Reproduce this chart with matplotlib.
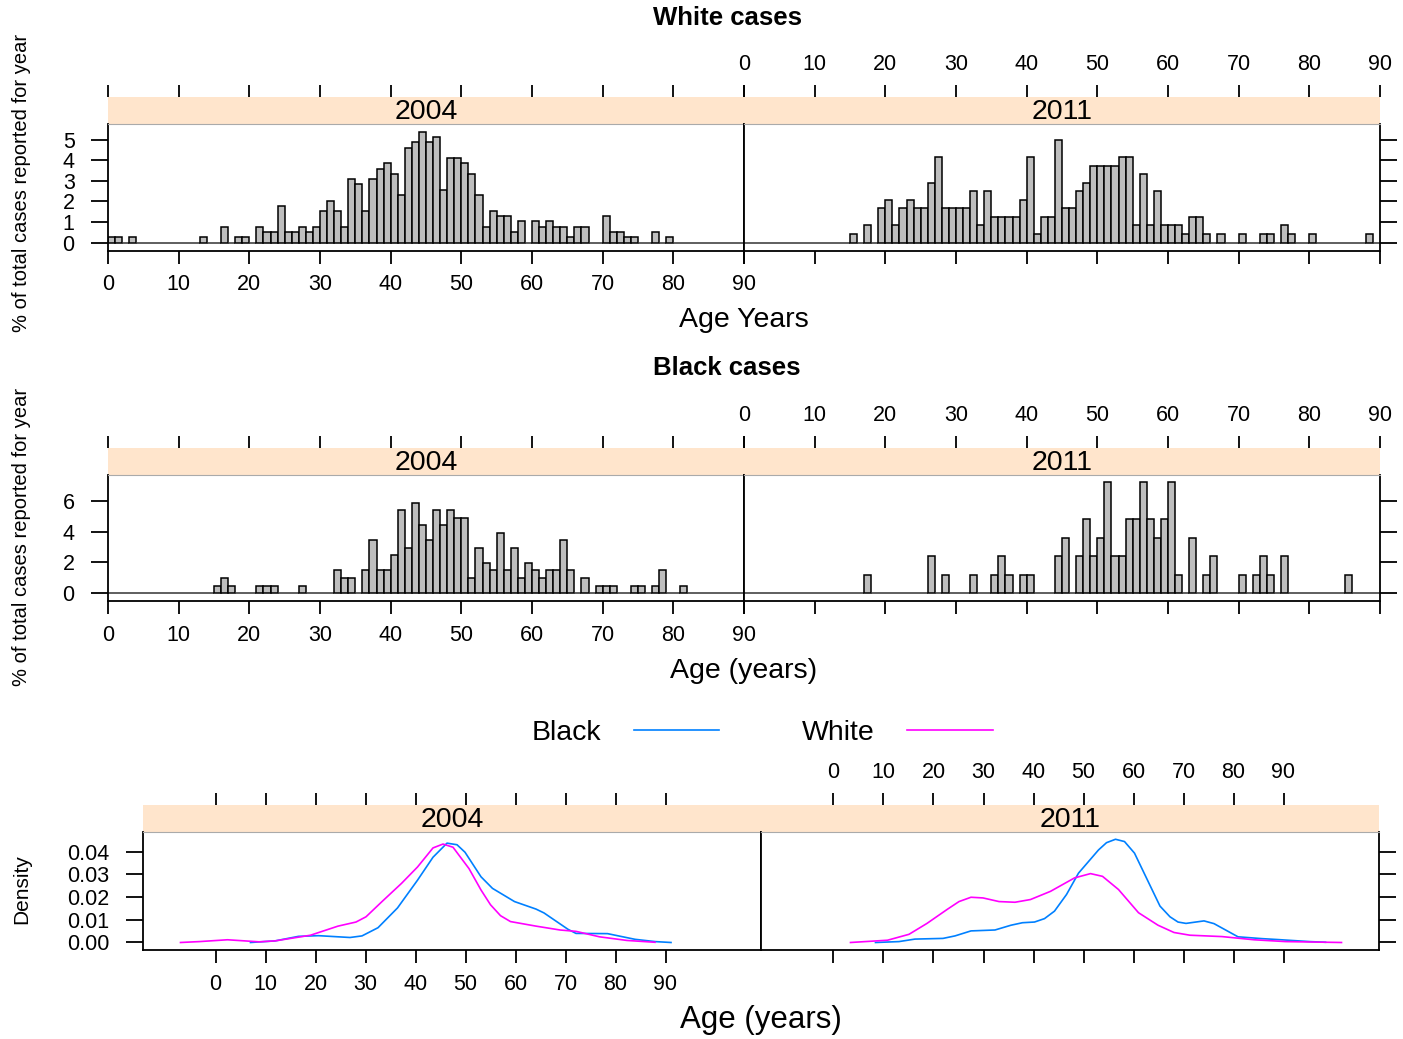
import numpy as np
import matplotlib
matplotlib.use("Agg")
import matplotlib.pyplot as plt

plt.rcParams['font.family'] = ['Liberation Sans', 'DejaVu Sans']

years = ["2004", "2011"]
ages = np.arange(90)   # one-year bins, 0..89

# % of total cases reported for year, one value per age bin
white_2004 = [0.26, 0.26, 0, 0.26, 0, 0, 0, 0, 0, 0,
              0, 0, 0, 0.26, 0, 0, 0.77, 0, 0.26, 0.26,
              0, 0.77, 0.51, 0.51, 1.78, 0.51, 0.51, 0.77, 0.51, 0.77,
              1.54, 2.04, 1.54, 0.77, 3.09, 2.83, 1.54, 3.09, 3.6, 3.86,
              3.35, 2.31, 4.63, 4.88, 5.4, 4.88, 5.14, 2.57, 4.11, 4.11,
              3.86, 3.34, 2.31, 0.77, 1.54, 1.29, 1.29, 0.51, 1.03, 0,
              1.03, 0.77, 1.03, 0.77, 0.77, 0.26, 0.77, 0.77, 0, 0,
              1.29, 0.51, 0.51, 0.26, 0.26, 0, 0, 0.51, 0, 0.26,
              0, 0, 0, 0, 0, 0, 0, 0, 0, 0]
white_2011 = [0, 0, 0, 0, 0, 0, 0, 0, 0, 0,
              0, 0, 0, 0, 0, 0.41, 0, 0.83, 0, 1.66,
              2.07, 0.83, 1.66, 2.07, 1.66, 1.66, 2.9, 4.15, 1.66, 1.66,
              1.66, 1.66, 2.49, 0.83, 2.49, 1.24, 1.24, 1.24, 1.24, 2.07,
              4.15, 0.41, 1.24, 1.24, 4.98, 1.66, 1.66, 2.49, 2.9, 3.73,
              3.73, 3.73, 3.73, 4.15, 4.15, 0.83, 3.32, 0.83, 2.49, 0.83,
              0.83, 0.83, 0.41, 1.24, 1.24, 0.41, 0, 0.41, 0, 0,
              0.41, 0, 0, 0.41, 0.41, 0, 0.83, 0.41, 0, 0,
              0.41, 0, 0, 0, 0, 0, 0, 0, 0.41, 0]
black_2004 = [0, 0, 0, 0, 0, 0, 0, 0, 0, 0,
              0, 0, 0, 0, 0, 0.49, 0.98, 0.49, 0, 0,
              0, 0.49, 0.49, 0.49, 0, 0, 0, 0.49, 0, 0,
              0, 0, 1.47, 0.98, 0.98, 0, 1.47, 3.43, 1.47, 1.47,
              2.45, 5.39, 2.94, 5.88, 4.41, 3.43, 5.39, 4.41, 5.39, 4.9,
              4.9, 0.98, 2.94, 1.96, 1.47, 3.92, 1.47, 2.94, 0.98, 1.96,
              1.47, 0.98, 1.47, 1.47, 3.43, 1.47, 0, 0.98, 0, 0.49,
              0.49, 0.49, 0, 0, 0.49, 0.49, 0, 0.49, 1.47, 0,
              0, 0.49, 0, 0, 0, 0, 0, 0, 0, 0]
black_2011 = [0, 0, 0, 0, 0, 0, 0, 0, 0, 0,
              0, 0, 0, 0, 0, 0, 0, 1.2, 0, 0,
              0, 0, 0, 0, 0, 0, 2.41, 0, 1.2, 0,
              0, 0, 1.2, 0, 0, 1.2, 2.41, 1.2, 0, 1.2,
              1.2, 0, 0, 0, 2.41, 3.61, 0, 2.41, 4.82, 2.41,
              3.61, 7.23, 2.41, 2.41, 4.82, 4.82, 7.23, 4.82, 3.61, 4.82,
              7.23, 1.2, 0, 3.61, 0, 1.2, 2.41, 0, 0, 0,
              1.2, 0, 1.2, 2.41, 1.2, 0, 2.41, 0, 0, 0,
              0, 0, 0, 0, 0, 1.2, 0, 0, 0, 0]

# density curves (age, density)
dens_black_2004_x = [7, 11.9, 16.6, 20.6, 26.9, 29.3, 32.5, 36.4, 40.4, 43.5, 46.3, 48.3,
                     49.9, 53.1, 55.4, 59.8, 64.1, 65.7, 70.5, 72.1, 78.4, 83.9, 87.9, 91.1]
dens_black_2004 = [0.0, 0.0007, 0.0027, 0.003, 0.0022, 0.0029, 0.0065, 0.0152, 0.0274, 0.0375,
                   0.0437, 0.043, 0.0397, 0.0289, 0.0238, 0.018, 0.0147, 0.013, 0.0058, 0.004,
                   0.0039, 0.0014, 0.0004, 0.0]
dens_white_2004_x = [-7, -3.2, 2.4, 8.7, 11.9, 19, 24.5, 28.1, 30.1, 33.3, 37.2, 40.4, 43.5,
                     45.5, 47.5, 50.7, 53.1, 55.0, 57.0, 59.0, 64.1, 68.9, 72.1, 76.8, 82.3, 87.9]
dens_white_2004 = [0.0, 0.0004, 0.0012, 0.0003, 0.0007, 0.0032, 0.0072, 0.009, 0.0113, 0.018,
                   0.026, 0.0332, 0.0416, 0.0433, 0.0419, 0.0325, 0.0231, 0.0166, 0.0118,
                   0.0092, 0.0072, 0.0055, 0.0049, 0.0025, 0.0009, 0.0001]
dens_black_2011_x = [8.4, 13.1, 16.3, 21.9, 24.3, 27.5, 32.3, 35.5, 37.8, 40.2, 42.2, 44.2,
                     46.6, 49.0, 53.0, 54.6, 56.4, 58.2, 60.2, 63.7, 65.3, 67.3, 68.9, 70.5,
                     74.1, 76.1, 80.9, 85.7, 88.8, 95.2, 98.4]
dens_black_2011 = [0.0, 0.0004, 0.0015, 0.0018, 0.0029, 0.0051, 0.0055, 0.0076, 0.0087, 0.009,
                   0.0105, 0.0138, 0.0211, 0.0305, 0.0407, 0.0439, 0.0454, 0.0444, 0.0393,
                   0.0233, 0.016, 0.0113, 0.009, 0.0084, 0.0095, 0.0083, 0.0025, 0.0017,
                   0.0013, 0.0004, 0.0001]
dens_white_2011_x = [3.4, 10.8, 15.1, 18.7, 22.7, 25.1, 27.5, 29.9, 33.1, 36.3, 39.4, 43.4,
                     48.2, 51.4, 53.8, 57.0, 61.0, 64.9, 68.1, 71.3, 77.7, 84.1, 90.4, 101.6]
dens_white_2011 = [0.0, 0.001, 0.0036, 0.0084, 0.0145, 0.018, 0.0199, 0.0196, 0.018, 0.0177,
                   0.0189, 0.0225, 0.0284, 0.0303, 0.0291, 0.0233, 0.0131, 0.0076, 0.0044,
                   0.0032, 0.0026, 0.0012, 0.0004, 0.0]

W, H = 1403, 1039
fig = plt.figure(figsize=(W / 100, H / 100), dpi=100)

STRIP = "#ffe5cc"
BAR = "#bebebe"
BLUE = "#0080ff"
MAGENTA = "#ff00ff"
XTICK = dict(direction="out", length=9, width=1.3, labelsize=15.5, color="black")
YTICK = dict(direction="out", length=12, width=1.3, labelsize=15.5, pad=12, color="black")


def box(x0, y0, x1, y1):  # pixel box (top-left origin) -> axes
    return fig.add_axes([x0 / W, 1 - y1 / H, (x1 - x0) / W, (y1 - y0) / H])


def block(xs, strip_top, top, bot, xlim, xticks, yticks, ylim, yfmt=None):
    panels = []
    for i, year in enumerate(years):
        x0, x1 = xs[i], xs[i + 1]
        sa = box(x0, strip_top, x1, top)
        sa.set_facecolor(STRIP)
        sa.set_xlim(xlim)
        sa.set_ylim(0, 1)
        sa.set_yticks([])
        for s in sa.spines.values():
            s.set_visible(False)
        sa.xaxis.tick_top()
        sa.set_xticks(xticks)
        sa.tick_params(axis="x", pad=7, **XTICK)
        if i == 0:
            sa.set_xticklabels([])
        sa.text(0.5, 0.45, year, transform=sa.transAxes, ha="center", va="center", fontsize=20.5)

        ax = box(x0, top, x1, bot)
        ax.set_xlim(xlim)
        ax.set_ylim(ylim)
        ax.set_xticks(xticks)
        ax.tick_params(axis="x", pad=8, **XTICK)
        if i == 1:
            ax.set_xticklabels([])
        ax.set_yticks(yticks)
        if yfmt:
            ax.set_yticklabels([yfmt % v for v in yticks])
        ax.tick_params(axis="y", **YTICK)
        if i == 1:
            ax.yaxis.tick_right()
            ax.set_yticklabels([])
        for s in ax.spines.values():
            s.set_linewidth(1.3)
        ax.spines["top"].set_color("#aaaaaa")
        ax.spines["top"].set_linewidth(0.8)
        panels.append(ax)
    return panels


def hist_panels(ax, vals):
    vals = np.asarray(vals)
    edges = ["black" if v > 0 else "#333333" for v in vals]
    ax.bar(ages, vals, width=1, align="edge", color=BAR, edgecolor=edges, linewidth=1.1)


# ---- White cases
fig.text(727 / W, 1 - 18 / H, "White cases", ha="center", va="center", fontsize=18.5, weight="bold")
wp = block([108, 744, 1380], 97, 124, 250.5, (0, 90), range(0, 91, 10), range(0, 6), (-0.39, 5.78))
hist_panels(wp[0], white_2004)
hist_panels(wp[1], white_2011)
fig.text(744 / W, 1 - 320 / H, "Age Years", ha="center", va="center", fontsize=20.5)
fig.text(22 / W, 1 - 183 / H, "% of total cases reported for year", rotation=90,
         ha="center", va="center", fontsize=14.5)

# ---- Black cases
fig.text(727 / W, 1 - 368 / H, "Black cases", ha="center", va="center", fontsize=18.5, weight="bold")
bp = block([108, 744, 1380], 448, 475, 601, (0, 90), range(0, 91, 10), range(0, 7, 2), (-0.52, 7.7))
hist_panels(bp[0], black_2004)
hist_panels(bp[1], black_2011)
fig.text(744 / W, 1 - 671 / H, "Age (years)", ha="center", va="center", fontsize=20.5)
fig.text(22 / W, 1 - 537 / H, "% of total cases reported for year", rotation=90,
         ha="center", va="center", fontsize=14.5)

# ---- Density
dp = block([143, 761, 1379], 805, 832, 950, (-14.5, 109.1), range(0, 91, 10),
           [0, 0.01, 0.02, 0.03, 0.04], (-0.0033, 0.0486), yfmt="%.2f")
lb, = dp[0].plot(dens_black_2004_x, dens_black_2004, color=BLUE, lw=1.2)
lw_, = dp[0].plot(dens_white_2004_x, dens_white_2004, color=MAGENTA, lw=1.2)
dp[1].plot(dens_black_2011_x, dens_black_2011, color=BLUE, lw=1.2)
dp[1].plot(dens_white_2011_x, dens_white_2011, color=MAGENTA, lw=1.2)
fig.text(761 / W, 1 - 1020 / H, "Age (years)", ha="center", va="center", fontsize=22.5)
fig.text(22 / W, 1 - 889 / H, "Density", rotation=90, ha="center", va="center", fontsize=15)

fig.legend([lb, lw_], ["Black", "White"], ncol=2, markerfirst=False, frameon=False,
           loc="center", bbox_to_anchor=(762 / W, 1 - 733 / H), fontsize=20.5,
           handlelength=3.0, handletextpad=1.15, columnspacing=2.9)

fig.savefig("out.png", dpi=100)
